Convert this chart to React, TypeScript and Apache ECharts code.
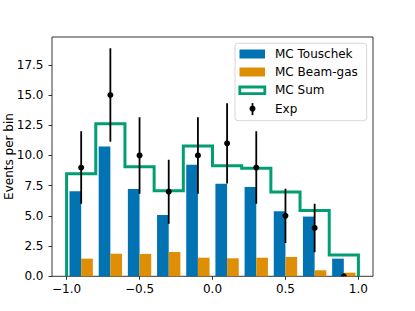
import React, { useEffect, useRef } from "react";
import * as echarts from "echarts";

const binCenters = [-0.9, -0.7, -0.5, -0.3, -0.1, 0.1, 0.3, 0.5, 0.7, 0.9];
const binWidth = 0.2;
const touschek = [7.03, 10.75, 7.22, 5.07, 9.24, 7.66, 7.39, 5.38, 4.94, 1.46];
const beamGas = [1.46, 1.87, 1.85, 2.01, 1.54, 1.49, 1.54, 1.6, 0.5, 0.3];
const expValues = [9, 15, 10, 7, 10, 11, 9, 5, 4, 0];
const expErrors = [3.0, 3.87, 3.16, 2.65, 3.16, 3.32, 3.0, 2.24, 2.0, 0];
const xTicks = [-1, -0.5, 0, 0.5, 1];
const yTicks = [0, 2.5, 5, 7.5, 10, 12.5, 15, 17.5];
const seriesNames = ["MC Touschek", "MC Beam-gas", "MC Sum", "Exp"];
const yAxisTitle = "Events per bin";

const BLUE = "#0173b2";
const ORANGE = "#de8f05";
const GREEN = "#029e73";
const FONT = "DejaVu Sans";
const FS = 12;

const barHalf = 0.08;

function fmt(v: number) {
  const s = Math.abs(v).toFixed(1);
  return v < 0 ? "\u2212" + s : s;
}

function barRender(color: string) {
  return (params: any, api: any) => {
    const p0 = api.coord([api.value(0), api.value(2)]);
    const p1 = api.coord([api.value(1), 0]);
    return {
      type: "rect",
      shape: { x: p0[0], y: p0[1], width: p1[0] - p0[0], height: p1[1] - p0[1] },
      style: { fill: color },
    };
  };
}

export default function App() {
  const ref = useRef<HTMLDivElement>(null);
  useEffect(() => {
    if (!ref.current) return;
    const chart = echarts.init(ref.current, null, { renderer: "svg" });

    const mcSum = touschek.map((v, i) => v + beamGas[i]);
    const stepPts: number[][] = [];
    binCenters.forEach((c, i) => {
      const l = c - binWidth / 2;
      const r = c + binWidth / 2;
      if (i === 0) stepPts.push([l, 0]);
      stepPts.push([l, mcSum[i]]);
      stepPts.push([r, mcSum[i]]);
      if (i === binCenters.length - 1) stepPts.push([r, 0]);
    });

    const legendX = 235;
    const legendY = 43.3;
    const rowY = [54, 72, 90.3, 108.7];
    const textX = 275;

    const option: any = {
      animation: false,
      backgroundColor: "#ffffff",
      textStyle: { fontFamily: FONT },
      grid: {
        left: 52,
        right: 42,
        top: 37,
        bottom: 34.7,
        show: true,
        borderColor: "#000000",
        borderWidth: 0.8,
        backgroundColor: "transparent",
        containLabel: false,
        outerBoundsMode: "none",
      },
      xAxis: {
        type: "value",
        min: -1.1,
        max: 1.1,
        splitLine: { show: false },
        axisLine: { show: false, onZero: false },
        axisTick: { show: true, length: 3.5, lineStyle: { color: "#000", width: 0.8 }, customValues: xTicks },
        axisLabel: {
          customValues: xTicks,
          formatter: (v: number) => fmt(v),
          color: "#000",
          fontFamily: FONT,
          fontSize: FS,
          margin: 7,
        },
      },
      yAxis: {
        type: "value",
        min: 0,
        max: 19.8,
        splitLine: { show: false },
        axisLine: { show: false, onZero: false },
        axisTick: { show: true, length: 3.5, lineStyle: { color: "#000", width: 0.8 }, customValues: yTicks },
        axisLabel: {
          customValues: yTicks,
          formatter: (v: number) => fmt(v),
          color: "#000",
          fontFamily: FONT,
          fontSize: FS,
          margin: 8.5,
        },
      },
      series: [
        {
          name: seriesNames[0],
          type: "custom",
          renderItem: barRender(BLUE),
          encode: { x: [0, 1], y: 2 },
          data: touschek.map((v, i) => [binCenters[i] - barHalf, binCenters[i], v]),
          z: 2,
        },
        {
          name: seriesNames[1],
          type: "custom",
          renderItem: barRender(ORANGE),
          encode: { x: [0, 1], y: 2 },
          data: beamGas.map((v, i) => [binCenters[i], binCenters[i] + barHalf, v]),
          z: 2,
        },
        {
          name: seriesNames[2],
          type: "line",
          data: stepPts,
          showSymbol: false,
          symbol: "none",
          lineStyle: { color: GREEN, width: 3, join: "miter", cap: "butt" },
          itemStyle: { color: GREEN },
          z: 3,
        },
        {
          name: seriesNames[3],
          type: "custom",
          clip: true,
          encode: { x: 0, y: 1 },
          data: expValues.map((v, i) => [binCenters[i], v, expErrors[i]]),
          renderItem: (params: any, api: any) => {
            const x = api.value(0);
            const y = api.value(1);
            const e = api.value(2);
            const pc = api.coord([x, y]);
            const pt = api.coord([x, y + e]);
            const pb = api.coord([x, y - e]);
            return {
              type: "group",
              children: [
                {
                  type: "line",
                  shape: { x1: pt[0], y1: pt[1], x2: pb[0], y2: pb[1] },
                  style: { stroke: "#000", lineWidth: 1.8 },
                },
                {
                  type: "circle",
                  shape: { cx: pc[0], cy: pc[1], r: 3 },
                  style: { fill: "#000" },
                },
              ],
            };
          },
          z: 4,
        },
      ],
      graphic: [
        {
          type: "text",
          x: 8.5,
          y: 156.5,
          rotation: Math.PI / 2,
          style: {
            text: yAxisTitle,
            fill: "#000",
            fontFamily: FONT,
            fontSize: FS,
            textAlign: "center",
            textVerticalAlign: "middle",
          },
        },
        {
          type: "group",
          z: 10,
          children: [
            {
              type: "rect",
              shape: { x: legendX, y: legendY, width: 131.7, height: 77.4, r: 3 },
              style: { fill: "rgba(255,255,255,0.8)", stroke: "#cccccc", lineWidth: 0.8 },
            },
            {
              type: "rect",
              shape: { x: 239.5, y: rowY[0] - 4.5, width: 25.5, height: 9 },
              style: { fill: BLUE },
            },
            {
              type: "rect",
              shape: { x: 239.5, y: rowY[1] - 4.5, width: 25.5, height: 9 },
              style: { fill: ORANGE },
            },
            {
              type: "rect",
              shape: { x: 239.8, y: rowY[2] - 3.3, width: 25, height: 6.6 },
              style: { fill: "#ffffff", stroke: GREEN, lineWidth: 2.8 },
            },
            {
              type: "line",
              shape: { x1: 252.5, y1: rowY[3] - 5.6, x2: 252.5, y2: rowY[3] + 6.4 },
              style: { stroke: "#000", lineWidth: 1.8 },
            },
            {
              type: "circle",
              shape: { cx: 252.5, cy: rowY[3], r: 3 },
              style: { fill: "#000" },
            },
            ...seriesNames.map((n, i) => ({
              type: "text",
              x: textX,
              y: rowY[i],
              style: {
                text: n,
                fill: "#000",
                fontFamily: FONT,
                fontSize: FS,
                textAlign: "left",
                textVerticalAlign: "middle",
              },
            })),
          ],
        },
      ],
    };
    chart.setOption(option);
    return () => chart.dispose();
  }, []);
  return (
    <div
      ref={ref}
      style={{ position: "fixed", left: 0, top: 0, width: 415, height: 311, background: "#fff" }}
    />
  );
}
